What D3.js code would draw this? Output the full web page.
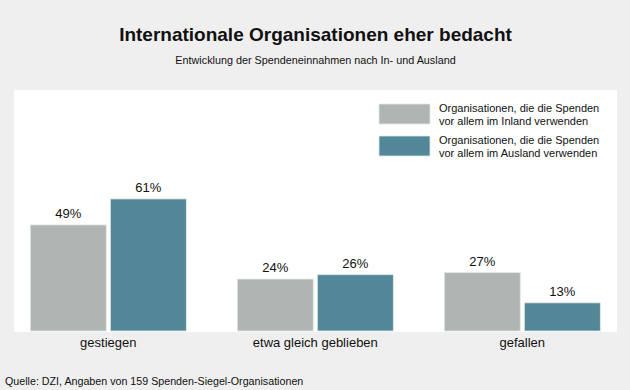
<!DOCTYPE html>
<html><head><meta charset="utf-8">
<script src="https://cdn.jsdelivr.net/npm/d3@7"></script>
<style>body{margin:0;background:#efefef;}svg{display:block;font-family:"Liberation Sans",Arial,sans-serif;}</style>
</head><body>
<svg id="c" width="630" height="390"></svg>
<script>
const categories = ["gestiegen", "etwa gleich geblieben", "gefallen"];
const seriesNames = ["Organisationen, die die Spenden vor allem im Inland verwenden", "Organisationen, die die Spenden vor allem im Ausland verwenden"];
const inland = [49, 24, 27];
const ausland = [61, 26, 13];
const colors = ["#aeb5b2", "#518796"];
const legendLines = [["Organisationen, die die Spenden", "vor allem im Inland verwenden"], ["Organisationen, die die Spenden", "vor allem im Ausland verwenden"]];

const svg = d3.select("#c");
svg.append("rect").attr("width",630).attr("height",390).attr("fill","#efefef");
svg.append("rect").attr("x",14).attr("y",90).attr("width",603).attr("height",242).attr("fill","#fff");

svg.append("text").attr("x",315.5).attr("y",41).attr("text-anchor","middle")
  .attr("font-size",19).attr("font-weight","bold").attr("fill","#111").text("Internationale Organisationen eher bedacht");
svg.append("text").attr("x",315.5).attr("y",64).attr("text-anchor","middle")
  .attr("font-size",10.8).attr("fill","#111").text("Entwicklung der Spendeneinnahmen nach In- und Ausland");

const x0 = d3.scaleBand().domain(categories).range([30.3, 600.3]).paddingInner(51/207).paddingOuter(0);
const x1 = d3.scaleBand().domain([0,1]).range([0, x0.bandwidth()]).paddingInner(4/78);
const y = d3.scaleLinear().domain([0,100]).range([331, 114.5]);

const data = categories.map((c,i)=>({cat:c, vals:[inland[i], ausland[i]]}));
const g = svg.append("g").selectAll("g").data(data).join("g").attr("transform", d=>`translate(${x0(d.cat)},0)`);
g.selectAll("rect").data(d=>d.vals).join("rect")
  .attr("x",(d,i)=>x1(i)).attr("y",d=>y(d)).attr("width",x1.bandwidth()).attr("height",d=>y(0)-y(d))
  .attr("fill",(d,i)=>colors[i]).attr("stroke","#e2e8e8").attr("stroke-width",0.8);
g.selectAll("text.v").data(d=>d.vals).join("text").attr("class","v")
  .attr("x",(d,i)=>x1(i)+x1.bandwidth()/2).attr("y",d=>y(d)-7).attr("text-anchor","middle")
  .attr("font-size",13).attr("fill","#111").text(d=>d+"%");

const xAxis = svg.append("g").attr("transform","translate(0,332)").call(d3.axisBottom(x0).tickSize(0).tickPadding(5.5));
xAxis.select(".domain").remove();
xAxis.selectAll("text").attr("font-size",13).attr("fill","#111").attr("font-family","Liberation Sans, Arial, sans-serif");

const leg = svg.append("g").selectAll("g").data(seriesNames).join("g").attr("transform",(d,i)=>`translate(379,${104+i*32})`);
leg.append("rect").attr("width",51).attr("height",20).attr("fill",(d,i)=>colors[i]).attr("stroke","#e2e8e8").attr("stroke-width",0.8);
leg.append("text").attr("x",60).attr("y",8).attr("font-size",11).attr("fill","#111")
  .selectAll("tspan").data((d,i)=>legendLines[i]).join("tspan").attr("x",60).attr("dy",(d,j)=>j===0?0:12.5).text(d=>d);

svg.append("text").attr("x",5).attr("y",385).attr("font-size",10.7).attr("fill","#111").text("Quelle: DZI, Angaben von 159 Spenden-Siegel-Organisationen");
</script>
</body></html>
